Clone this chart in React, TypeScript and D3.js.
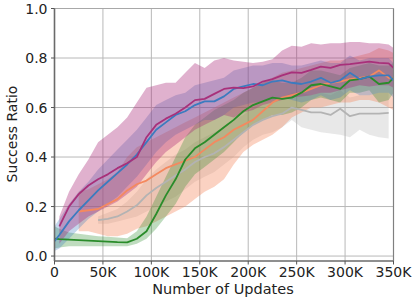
import * as d3 from "d3";

// x positions in thousands of updates
const updatesK = [0, 5, 15, 25, 35, 45, 55, 65, 75, 85, 95, 105, 115, 125, 135, 145, 155, 165, 175, 185,
  195, 205, 215, 225, 235, 245, 255, 265, 275, 285, 295, 305, 315, 325, 335, 345, 350];

type V = number | null;
const _ = null;

const purpleMean: V[] = [_, 0.12, 0.2, 0.25, 0.285, 0.31, 0.33, 0.355, 0.375, 0.4, 0.48, 0.53, 0.555, 0.575, 0.6, 0.63, 0.635, 0.655, 0.675, 0.68,
  0.678, 0.685, 0.705, 0.715, 0.73, 0.742, 0.74, 0.752, 0.765, 0.76, 0.772, 0.775, 0.78, 0.785, 0.78, 0.778, 0.76];
const purpleLo: V[] = [_, 0.05, 0.1, 0.13, 0.16, 0.18, 0.2, 0.22, 0.25, 0.28, 0.33, 0.38, 0.42, 0.45, 0.48, 0.51, 0.53, 0.55, 0.57, 0.56,
  0.58, 0.59, 0.61, 0.62, 0.63, 0.64, 0.645, 0.65, 0.66, 0.66, 0.67, 0.68, 0.69, 0.685, 0.69, 0.69, 0.68];
const purpleHi: V[] = [_, 0.16, 0.26, 0.33, 0.39, 0.46, 0.49, 0.52, 0.56, 0.62, 0.68, 0.69, 0.7, 0.7, 0.74, 0.78, 0.76, 0.79, 0.8, 0.79,
  0.785, 0.78, 0.785, 0.795, 0.83, 0.85, 0.845, 0.86, 0.855, 0.86, 0.86, 0.865, 0.865, 0.86, 0.86, 0.855, 0.84];

const blueMean: V[] = [0.06, 0.085, 0.14, 0.185, 0.225, 0.265, 0.3, 0.335, 0.37, 0.41, 0.46, 0.51, 0.54, 0.57, 0.585, 0.61, 0.625, 0.625, 0.645, 0.675,
  0.685, 0.695, 0.69, 0.705, 0.71, 0.7, 0.695, 0.705, 0.72, 0.7, 0.71, 0.74, 0.715, 0.725, 0.73, 0.73, 0.71];
const blueLo: V[] = [0.02, 0.03, 0.07, 0.11, 0.15, 0.18, 0.21, 0.24, 0.28, 0.32, 0.37, 0.42, 0.46, 0.49, 0.51, 0.53, 0.55, 0.55, 0.57, 0.6,
  0.61, 0.62, 0.62, 0.63, 0.64, 0.63, 0.62, 0.63, 0.65, 0.63, 0.64, 0.67, 0.65, 0.65, 0.66, 0.66, 0.64];
const blueHi: V[] = [0.12, 0.15, 0.21, 0.26, 0.3, 0.35, 0.39, 0.43, 0.47, 0.51, 0.56, 0.61, 0.63, 0.65, 0.66, 0.69, 0.7, 0.71, 0.72, 0.75,
  0.76, 0.77, 0.77, 0.78, 0.78, 0.77, 0.77, 0.78, 0.79, 0.78, 0.78, 0.81, 0.79, 0.8, 0.8, 0.8, 0.78];

const greenMean: V[] = [0.07, 0.068, 0.066, 0.064, 0.062, 0.06, 0.058, 0.056, 0.055, 0.07, 0.1, 0.17, 0.245, 0.31, 0.39, 0.435, 0.46, 0.49, 0.52, 0.55,
  0.585, 0.61, 0.625, 0.64, 0.635, 0.64, 0.66, 0.69, 0.695, 0.685, 0.675, 0.71, 0.715, 0.725, 0.695, 0.7, 0.72];
const greenLo: V[] = [0.03, 0.035, 0.04, 0.04, 0.04, 0.04, 0.04, 0.04, 0.04, 0.05, 0.07, 0.11, 0.16, 0.21, 0.28, 0.33, 0.36, 0.39, 0.42, 0.46,
  0.5, 0.53, 0.55, 0.57, 0.57, 0.58, 0.6, 0.63, 0.64, 0.63, 0.62, 0.66, 0.66, 0.67, 0.62, 0.63, 0.66];
const greenHi: V[] = [0.12, 0.11, 0.095, 0.09, 0.085, 0.08, 0.078, 0.075, 0.072, 0.1, 0.16, 0.24, 0.32, 0.4, 0.48, 0.53, 0.56, 0.59, 0.61, 0.63,
  0.66, 0.68, 0.7, 0.71, 0.7, 0.7, 0.72, 0.75, 0.75, 0.74, 0.73, 0.76, 0.77, 0.78, 0.77, 0.77, 0.78];

const orangeMean: V[] = [_, _, _, 0.18, 0.185, 0.19, 0.21, 0.23, 0.265, 0.29, 0.305, 0.33, 0.355, 0.37, 0.385, 0.4, 0.43, 0.46, 0.48, 0.51,
  0.53, 0.55, 0.585, 0.62, 0.64, 0.65, 0.66, 0.675, 0.69, 0.7, 0.705, 0.715, 0.72, 0.725, 0.75, 0.72, 0.72];
const orangeLo: V[] = [_, _, _, 0.1, 0.1, 0.09, 0.08, 0.08, 0.09, 0.11, 0.12, 0.14, 0.16, 0.18, 0.2, 0.23, 0.26, 0.28, 0.31, 0.37,
  0.42, 0.45, 0.47, 0.49, 0.52, 0.56, 0.58, 0.6, 0.6, 0.61, 0.62, 0.62, 0.63, 0.63, 0.62, 0.6, 0.59];
const orangeHi: V[] = [_, _, _, 0.26, 0.27, 0.29, 0.31, 0.34, 0.4, 0.44, 0.46, 0.48, 0.5, 0.52, 0.54, 0.56, 0.58, 0.6, 0.62, 0.64,
  0.66, 0.68, 0.7, 0.72, 0.74, 0.75, 0.76, 0.77, 0.78, 0.79, 0.79, 0.8, 0.81, 0.82, 0.84, 0.83, 0.82];

const grayMean: V[] = [_, _, _, _, _, 0.145, 0.15, 0.16, 0.18, 0.205, 0.245, 0.275, 0.3, 0.325, 0.35, 0.38, 0.4, 0.415, 0.44, 0.47,
  0.5, 0.53, 0.55, 0.565, 0.575, 0.6, 0.59, 0.58, 0.58, 0.57, 0.595, 0.565, 0.575, 0.575, 0.575, 0.578, _];
const grayLo: V[] = [_, _, _, _, _, 0.13, 0.13, 0.14, 0.15, 0.16, 0.18, 0.2, 0.22, 0.24, 0.27, 0.3, 0.32, 0.34, 0.37, 0.4,
  0.44, 0.47, 0.49, 0.5, 0.52, 0.55, 0.52, 0.51, 0.5, 0.495, 0.49, 0.48, 0.51, 0.49, 0.48, 0.475, _];
const grayHi: V[] = [_, _, _, _, _, 0.16, 0.175, 0.19, 0.22, 0.26, 0.31, 0.35, 0.38, 0.41, 0.43, 0.46, 0.48, 0.5, 0.52, 0.55,
  0.57, 0.6, 0.62, 0.63, 0.64, 0.66, 0.66, 0.65, 0.66, 0.65, 0.67, 0.64, 0.65, 0.65, 0.66, 0.66, _];

const series = [
  { name: "gray", color: "#b3b3b3", band: "#b4b4b4", op: 0.3, mean: grayMean, lo: grayLo, hi: grayHi },
  { name: "orange", color: "#f4895f", band: "#f4895f", op: 0.38, mean: orangeMean, lo: orangeLo, hi: orangeHi },
  { name: "green", color: "#2a8c2a", band: "#2a8c2a", op: 0.3, mean: greenMean, lo: greenLo, hi: greenHi },
  { name: "blue", color: "#3b7bbf", band: "#3b7bbf", op: 0.3, mean: blueMean, lo: blueLo, hi: blueHi },
  { name: "purple", color: "#a8307a", band: "#aa2878", op: 0.36, mean: purpleMean, lo: purpleLo, hi: purpleHi },
];

const xTicks = [0, 50000, 100000, 150000, 200000, 250000, 300000, 350000];
const xTickLabels = ["0", "50K", "100K", "150K", "200K", "250K", "300K", "350K"];
const yTicks = [0, 0.2, 0.4, 0.6, 0.8, 1.0];
const yTickLabels = ["0.0", "0.2", "0.4", "0.6", "0.8", "1.0"];

const W = 414;
const H = 297;

export default function App() {
  const x = d3.scaleLinear().domain([0, 350000]).range([54.5, 393.5]);
  const y = d3.scaleLinear().domain([-0.02, 1.0]).range([261, 8.5]);
  const font = "DejaVu Sans, sans-serif";

  const area = (lo: V[], hi: V[]) =>
    d3
      .area<number>()
      .defined((i) => lo[i] != null && hi[i] != null)
      .x((i) => x(updatesK[i] * 1000))
      .y0((i) => y(lo[i] as number))
      .y1((i) => y(hi[i] as number))(updatesK.map((_d, i) => i)) || "";

  const line = (m: V[]) =>
    d3
      .line<number>()
      .defined((i) => m[i] != null)
      .x((i) => x(updatesK[i] * 1000))
      .y((i) => y(m[i] as number))(updatesK.map((_d, i) => i)) || "";

  const [x0, x1] = x.range();
  const [yb, yt] = y.range();

  return (
    <svg width={W} height={H} style={{ position: "absolute", left: 0, top: 0, background: "#fff" }} fontFamily={font}>
      {/* grid */}
      {xTicks.map((t) => (
        <line key={"gx" + t} x1={x(t)} x2={x(t)} y1={yt} y2={yb} stroke="#b8b8b8" strokeWidth={1} />
      ))}
      {yTicks.map((t) => (
        <line key={"gy" + t} x1={x0} x2={x1} y1={y(t)} y2={y(t)} stroke="#b8b8b8" strokeWidth={1} />
      ))}

      {/* bands */}
      {series.map((s) => (
        <path key={"b" + s.name} d={area(s.lo, s.hi)} fill={s.band} fillOpacity={s.op} stroke="none" />
      ))}
      {/* mean lines */}
      {series.map((s) => (
        <path key={"l" + s.name} d={line(s.mean)} fill="none" stroke={s.color} strokeWidth={1.8} strokeLinejoin="round" />
      ))}

      {/* spines */}
      <line x1={x0} x2={x1} y1={yt} y2={yt} stroke="#a8a8a8" strokeWidth={1.2} />
      <line x1={x1} x2={x1} y1={yt} y2={yb} stroke="#808080" strokeWidth={1.2} />
      <line x1={x0} x2={x1} y1={yb} y2={yb} stroke="#6a6a6a" strokeWidth={1.4} />
      <line x1={x0} x2={x0} y1={yt} y2={yb} stroke="#6a6a6a" strokeWidth={1.6} />

      {/* x ticks */}
      {xTicks.map((t, i) => (
        <g key={"xt" + t}>
          <line x1={x(t)} x2={x(t)} y1={yb} y2={yb + 3.5} stroke="#555" strokeWidth={1} />
          <text x={x(t)} y={277} fontSize={14} textAnchor="middle" fill="#222">
            {xTickLabels[i]}
          </text>
        </g>
      ))}
      {/* y ticks */}
      {yTicks.map((t, i) => (
        <g key={"yt" + t}>
          <line x1={x0 - 3.5} x2={x0} y1={y(t)} y2={y(t)} stroke="#555" strokeWidth={1} />
          <text x={47.5} y={y(t)} dy="0.36em" fontSize={14} textAnchor="end" fill="#222">
            {yTickLabels[i]}
          </text>
        </g>
      ))}

      <text x={223} y={293.5} fontSize={14.5} textAnchor="middle" fill="#222">
        Number of Updates
      </text>
      <text transform="translate(16.5,134) rotate(-90)" fontSize={14} textAnchor="middle" fill="#222">
        Success Ratio
      </text>
    </svg>
  );
}
